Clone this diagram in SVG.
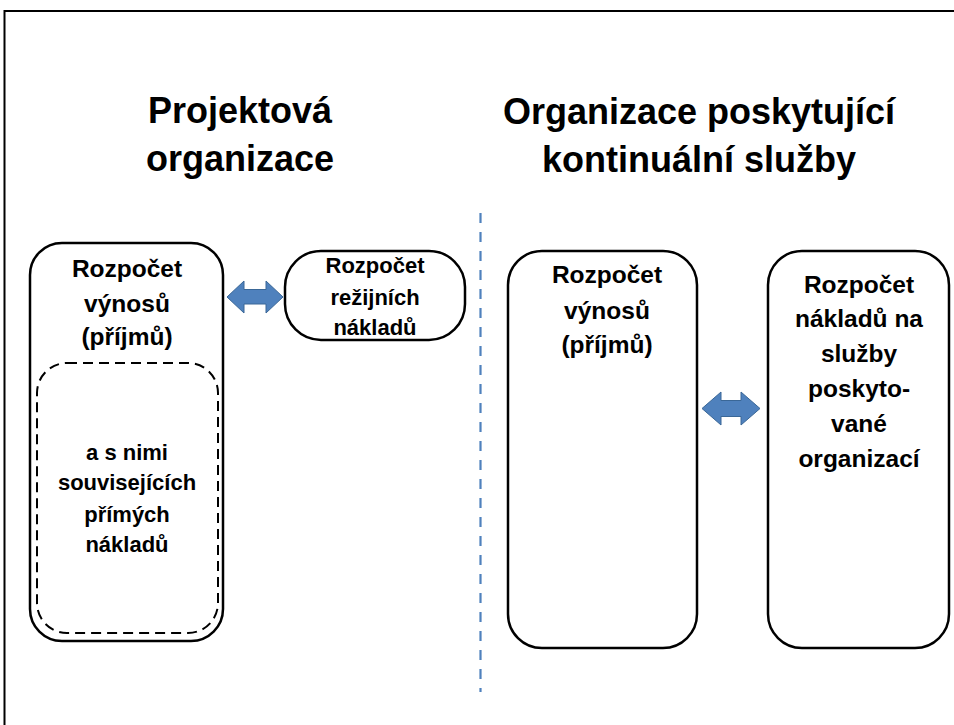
<svg xmlns="http://www.w3.org/2000/svg" width="954" height="725" viewBox="0 0 954 725">
<defs>
<style>
.t{font-family:"Liberation Sans",Arial,sans-serif;font-weight:bold;fill:#000;text-anchor:middle}
.title{font-size:36px}
.lbl{font-size:24.5px}
.sm{font-size:22px}
.box{fill:#fff;stroke:#000;stroke-width:2.5}
.dash{fill:none;stroke:#000;stroke-width:2;stroke-dasharray:10 6}
.arr{fill:#4F81BD;stroke:#3A6797;stroke-width:1}
</style>
</defs>
<rect x="0" y="0" width="954" height="725" fill="#fff"/>
<rect x="4.5" y="11" width="960" height="730" fill="none" stroke="#000" stroke-width="2"/>

<g id="title-left">
<text class="t title" x="240" y="123">Projektová</text>
<text class="t title" x="240" y="171">organizace</text>
</g>
<g id="title-right">
<text class="t title" x="699" y="124">Organizace poskytující</text>
<text class="t title" x="699" y="172">kontinuální služby</text>
</g>

<g id="connectors">
<line x1="480.5" y1="213" x2="480.5" y2="692" stroke="#4F81BD" stroke-width="2.2" stroke-dasharray="10 9"/>
<path class="arr" d="M227,297 L244,281 L244,289.5 L266,289.5 L266,281 L283,297 L266,313 L266,304 L244,304 L244,313 Z"/>
<path class="arr" d="M702,408.5 L721,392 L721,400.5 L741,400.5 L741,392 L760,408.5 L741,425 L741,416.5 L721,416.5 L721,425 Z"/>
</g>

<g id="node-vynosy-left">
<rect class="box" x="30" y="243" width="193" height="398" rx="32" ry="32"/>
<text class="t lbl" x="127" y="277">Rozpočet</text>
<text class="t lbl" x="127" y="312">výnosů</text>
<text class="t lbl" x="127" y="345">(příjmů)</text>
</g>
<g id="node-prime-naklady">
<rect class="dash" x="37" y="363" width="181" height="270" rx="30" ry="30"/>
<text class="t sm" x="127" y="460">a s nimi</text>
<text class="t sm" x="127" y="490">souvisejících</text>
<text class="t sm" x="127" y="522">přímých</text>
<text class="t sm" x="127" y="552">nákladů</text>
</g>
<g id="node-rezijni">
<rect class="box" x="285" y="251" width="180" height="89" rx="36" ry="36"/>
<text class="t sm" x="375" y="273">Rozpočet</text>
<text class="t sm" x="375" y="305">režijních</text>
<text class="t sm" x="375" y="335">nákladů</text>
</g>
<g id="node-vynosy-right">
<rect class="box" x="508" y="251" width="189" height="397" rx="34" ry="34"/>
<text class="t lbl" x="607" y="283">Rozpočet</text>
<text class="t lbl" x="607" y="319">výnosů</text>
<text class="t lbl" x="607" y="353">(příjmů)</text>
</g>
<g id="node-naklady-sluzby">
<rect class="box" x="768" y="251" width="181" height="397" rx="34" ry="34"/>
<text class="t lbl" x="859" y="293">Rozpočet</text>
<text class="t lbl" x="859" y="327">nákladů na</text>
<text class="t lbl" x="859" y="362">služby</text>
<text class="t lbl" x="859" y="397">poskyto-</text>
<text class="t lbl" x="859" y="432">vané</text>
<text class="t lbl" x="859" y="467">organizací</text>
</g>
</svg>
